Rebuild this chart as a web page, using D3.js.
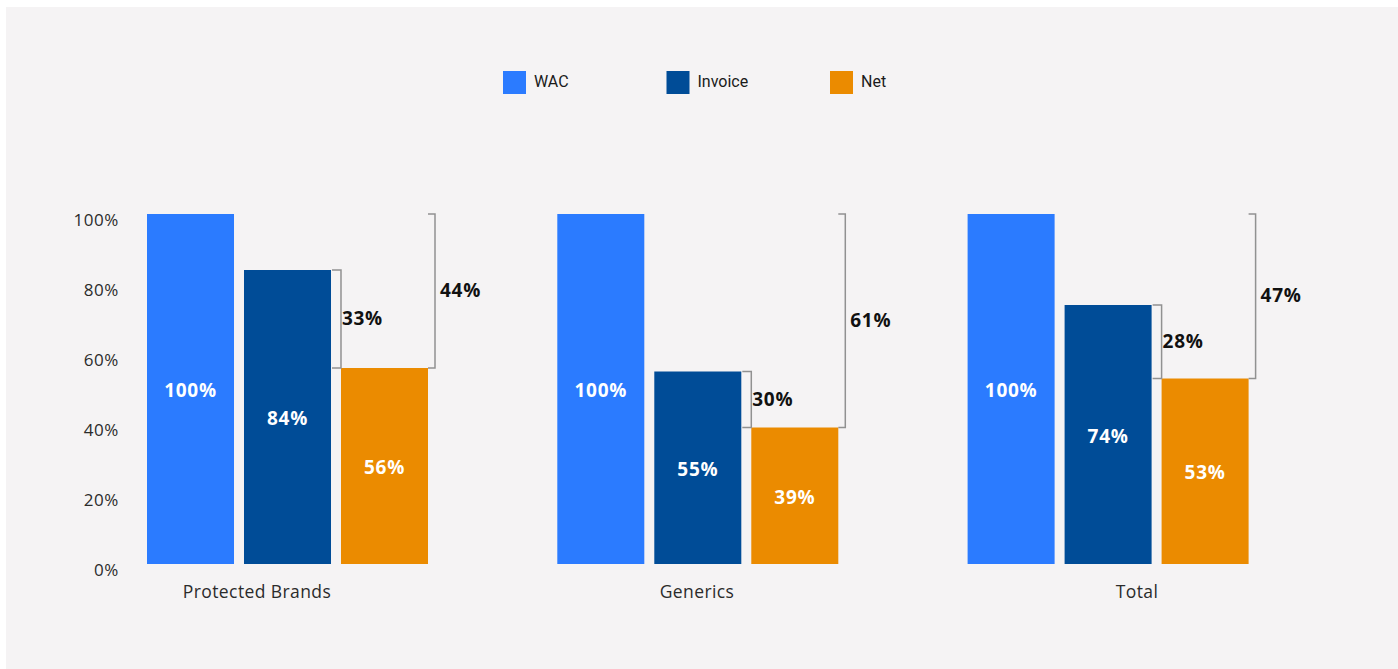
<!DOCTYPE html>
<html>
<head>
<meta charset="utf-8">
<script src="https://cdn.jsdelivr.net/npm/d3@7"></script>
<style>
  html, body { margin: 0; padding: 0; background: #fff; }
  svg { display: block; }
</style>
</head>
<body>
<svg></svg>
<script>
// Chart data
const categories = ["Protected Brands", "Generics", "Total"];
const seriesNames = ["WAC", "Invoice", "Net"];
const wacValues = [100, 100, 100];
const invoiceValues = [84, 55, 74];
const netValues = [56, 39, 53];
// bracket annotations (invoice -> net, wac -> net)
const invoiceToNetLabels = ["33%", "30%", "28%"];
const wacToNetLabels = ["44%", "61%", "47%"];
const tickValues = [0, 20, 40, 60, 80, 100];

const colors = ["#2b7bff", "#004c97", "#eb8b00"];

const width = 1398;
const height = 669;

const font = "'Open Sans', Lato, sans-serif";

const svg = d3.select("svg")
    .attr("width", width)
    .attr("height", height);

// panel background
svg.append("rect")
    .attr("x", 6)
    .attr("y", 7)
    .attr("width", width - 6)
    .attr("height", height - 7)
    .attr("fill", "#f5f3f4");

// Scales
const y = d3.scaleLinear()
    .domain([0, 100])
    .range([564, 214]);

const x0 = d3.scaleBand()
    .domain(categories)
    .range([147, 147 + 3 * 410.3])
    .padding(0);

const x1 = d3.scaleBand()
    .domain(seriesNames)
    .range([0, 281])
    .paddingInner(0.103)
    .paddingOuter(0);

// category labels sit on their own, wider spread
const xLabel = d3.scalePoint()
    .domain(categories)
    .range([257, 1137]);

// Y axis labels
const yAxis = d3.axisLeft(y)
    .tickValues(tickValues)
    .tickFormat(d => d + "%")
    .tickSize(0)
    .tickPadding(0);

const yAxisG = svg.append("g")
    .attr("transform", "translate(119,6)")
    .call(yAxis);
yAxisG.select(".domain").remove();
yAxisG.selectAll("text")
    .style("font-family", font)
    .style("font-size", "17px")
    .style("letter-spacing", "0.6px")
    .attr("fill", "#2b2b2b");

// rows of data per category
const rows = categories.map((c, i) => ({
    category: c,
    values: [wacValues[i], invoiceValues[i], netValues[i]],
    small: invoiceToNetLabels[i],
    big: wacToNetLabels[i]
}));

const groups = svg.selectAll(".group")
    .data(rows)
    .enter()
    .append("g")
    .attr("class", "group")
    .attr("transform", d => `translate(${x0(d.category)},0)`);

groups.selectAll("rect")
    .data(d => d.values.map((v, j) => ({ name: seriesNames[j], value: v, idx: j })))
    .enter()
    .append("rect")
    .attr("x", d => x1(d.name))
    .attr("y", d => y(d.value))
    .attr("width", x1.bandwidth())
    .attr("height", d => y(0) - y(d.value))
    .attr("fill", d => colors[d.idx]);

groups.selectAll(".val")
    .data(d => d.values.map((v, j) => ({ name: seriesNames[j], value: v })))
    .enter()
    .append("text")
    .attr("class", "val")
    .attr("x", d => x1(d.name) + x1.bandwidth() / 2)
    .attr("y", d => (y(d.value) + y(0)) / 2 + 3)
    .attr("text-anchor", "middle")
    .attr("dominant-baseline", "middle")
    .style("font-family", font)
    .style("font-weight", "bold")
    .style("font-size", "19px")
    .style("letter-spacing", "0.7px")
    .attr("fill", "#fff")
    .text(d => d.value + "%");

// Brackets
function bracket(g, xLeft, xRight, yTop, yBottom) {
    g.append("path")
        .attr("d", `M${xLeft},${yTop}H${xRight}V${yBottom}H${xLeft}`)
        .attr("fill", "none")
        .attr("stroke", "#919191")
        .attr("stroke-width", 1.5);
}

groups.each(function(d) {
    const g = d3.select(this);
    const invRight = x1("Invoice") + x1.bandwidth();
    const netLeft = x1("Net");
    const netRight = x1("Net") + x1.bandwidth();
    const yInv = y(d.values[1]);
    const yNet = y(d.values[2]);
    const yWac = y(d.values[0]);

    // invoice -> net
    bracket(g, invRight + 1, netLeft, yInv, yNet);
    g.append("text")
        .attr("x", netLeft + 1)
        .attr("y", (yInv + yNet) / 2 + 1)
        .attr("dominant-baseline", "middle")
        .style("font-family", font)
        .style("font-weight", "bold")
        .style("font-size", "19px")
        .style("letter-spacing", "0.7px")
        .attr("fill", "#111")
        .text(d.small);

    // wac -> net
    bracket(g, netRight, netRight + 7, yWac, yNet);
    g.append("text")
        .attr("x", netRight + 12)
        .attr("y", (yWac + yNet) / 2 + 1)
        .attr("dominant-baseline", "middle")
        .style("font-family", font)
        .style("font-weight", "bold")
        .style("font-size", "19px")
        .style("letter-spacing", "0.7px")
        .attr("fill", "#111")
        .text(d.big);
});

// Category labels
svg.selectAll(".cat")
    .data(categories)
    .enter()
    .append("text")
    .attr("class", "cat")
    .attr("x", d => xLabel(d))
    .attr("y", 593)
    .attr("text-anchor", "middle")
    .attr("dominant-baseline", "middle")
    .style("font-family", font)
    .style("font-size", "17.5px")
    .style("letter-spacing", "0.4px")
    .attr("fill", "#2b2b2b")
    .text(d => d);

// Legend
const legendX = d3.scalePoint()
    .domain(seriesNames)
    .range([503, 830]);

const legend = svg.selectAll(".legend")
    .data(seriesNames)
    .enter()
    .append("g")
    .attr("class", "legend")
    .attr("transform", d => `translate(${legendX(d)},71)`);

legend.append("rect")
    .attr("width", 23)
    .attr("height", 23)
    .attr("fill", (d, i) => colors[i]);

legend.append("text")
    .attr("x", 31)
    .attr("y", 12)
    .attr("dominant-baseline", "middle")
    .style("font-family", "Roboto, 'Noto Sans', sans-serif")
    .style("font-size", "16px")
    .attr("fill", "#1a1a1a")
    .text(d => d);
</script>
</body>
</html>
